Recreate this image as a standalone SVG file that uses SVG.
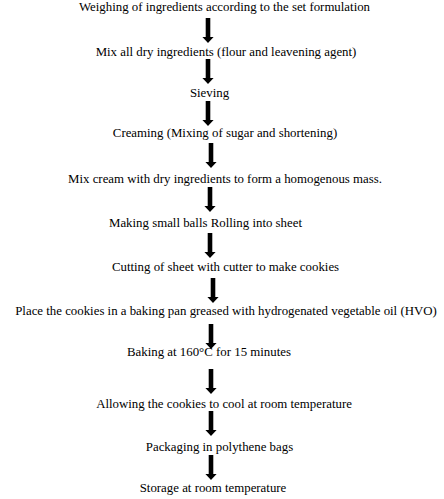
<svg xmlns="http://www.w3.org/2000/svg" xmlns:xlink="http://www.w3.org/1999/xlink" width="444" height="499" viewBox="0 0 444 499">
<style>
text{font-family:"Liberation Serif","Times New Roman",serif;font-size:12.85px;fill:#000;text-anchor:middle}
.arr{fill:#000}
</style>
<defs>
<path id="arrow" class="arr" d="M-2.3,0 H2.3 V19 H5.6 L0,25 L-5.6,19 H-2.3 Z"/>
</defs>
<rect width="444" height="499" fill="#fff"/>
<g id="connectors">
<use xlink:href="#arrow" href="#arrow" x="208" y="18"/>
<use xlink:href="#arrow" href="#arrow" x="208" y="59"/>
<use xlink:href="#arrow" href="#arrow" x="208" y="101"/>
<use xlink:href="#arrow" href="#arrow" x="211" y="143"/>
<use xlink:href="#arrow" href="#arrow" x="210" y="187"/>
<use xlink:href="#arrow" href="#arrow" x="210" y="233"/>
<use xlink:href="#arrow" href="#arrow" x="213" y="278"/>
<use xlink:href="#arrow" href="#arrow" x="211" y="324"/>
<use xlink:href="#arrow" href="#arrow" x="211" y="369"/>
<use xlink:href="#arrow" href="#arrow" x="211" y="411"/>
<use xlink:href="#arrow" href="#arrow" x="211" y="455"/>
</g>
<g id="n1"><text x="224.5" y="11">Weighing of ingredients according to the set formulation</text></g>
<g id="n2"><text x="226" y="56">Mix all dry ingredients (flour and leavening agent)</text></g>
<g id="n3"><text x="209.5" y="97">Sieving</text></g>
<g id="n4"><text x="225" y="137">Creaming (Mixing of sugar and shortening)</text></g>
<g id="n5"><text x="225" y="183">Mix cream with dry ingredients to form a homogenous mass.</text></g>
<g id="n6"><text x="205.5" y="227">Making small balls Rolling into sheet</text></g>
<g id="n7"><text x="225.5" y="271">Cutting of sheet with cutter to make cookies</text></g>
<g id="n8"><text x="226" y="315">Place the cookies in a baking pan greased with hydrogenated vegetable oil (HVO)</text></g>
<g id="n9"><text x="209" y="356">Baking at 160°C for 15 minutes</text></g>
<g id="n10"><text x="224" y="408">Allowing the cookies to cool at room temperature</text></g>
<g id="n11"><text x="219.5" y="451">Packaging in polythene bags</text></g>
<g id="n12"><text x="213" y="492">Storage at room temperature</text></g>
</svg>
